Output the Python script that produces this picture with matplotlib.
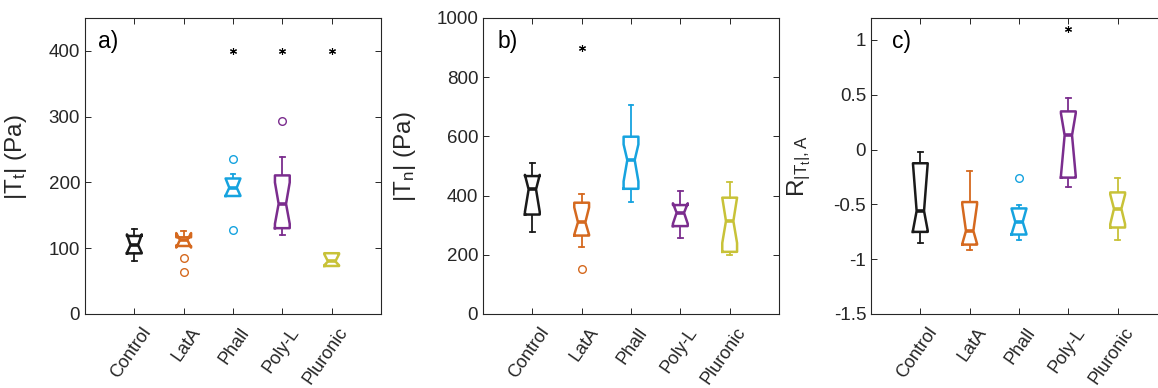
import numpy as np
import matplotlib.pyplot as plt
import matplotlib.transforms as mtrans

plt.rcParams['font.family'] = ['Liberation Sans', 'DejaVu Sans']
plt.rcParams['mathtext.fontset'] = 'custom'
plt.rcParams['mathtext.rm'] = 'Liberation Sans'
plt.rcParams['mathtext.it'] = 'Liberation Sans'
plt.rcParams['axes.unicode_minus'] = False

groups = ['Control', 'LatA', 'Phall', 'Poly-L', 'Pluronic']
colors = ['#1a1a1a', '#D5691F', '#16A3DF', '#7B2D8E', '#C8C238']

# panel a: |Tt| (Pa)
a_whislo = [80.6, 103.4, 179.4, 119.8, 73]
a_q1 = [92.2, 103.4, 179.4, 130.5, 73]
a_med = [104.9, 112.5, 192, 167.5, 80]
a_q3 = [118.6, 116.6, 206, 210.7, 92.4]
a_whishi = [129.7, 126, 212.8, 238, 92.4]
a_cilo = [93, 101, 180, 137, 74]
a_cihi = [121, 123, 206, 200, 91]
a_fliers = [[], [85, 64.3], [236, 127], [293], []]
a_star_x = [3, 4, 5]
a_star_y = [400, 400, 400]

# panel b: |Tn| (Pa)
b_whislo = [276.5, 227, 378, 256, 201]
b_q1 = [336, 265, 423, 297, 210]
b_med = [421, 310, 520, 342, 314]
b_q3 = [466, 376, 599, 368, 393]
b_whishi = [509, 404, 705, 415, 447]
b_cilo = [345, 268, 448, 305, 240]
b_cihi = [470, 360, 573, 374, 393]
b_fliers = [[], [152], [], [], []]
b_star_x = [2]
b_star_y = [900]

# panel c: R_|Tt|,A
c_whislo = [-0.852, -0.919, -0.821, -0.339, -0.821]
c_q1 = [-0.751, -0.867, -0.775, -0.256, -0.711]
c_med = [-0.56, -0.742, -0.66, 0.13, -0.54]
c_q3 = [-0.125, -0.479, -0.537, 0.348, -0.391]
c_whishi = [-0.018, -0.195, -0.504, 0.473, -0.263]
c_cilo = [-0.74, -0.86, -0.77, -0.24, -0.68]
c_cihi = [-0.125, -0.50, -0.54, 0.33, -0.41]
c_fliers = [[], [], [-0.263], [], []]
c_star_x = [4]
c_star_y = [1.10]

panels = [
    dict(whislo=a_whislo, q1=a_q1, med=a_med, q3=a_q3, whishi=a_whishi,
         cilo=a_cilo, cihi=a_cihi, fliers=a_fliers, sx=a_star_x, sy=a_star_y,
         ylim=(0, 450), yticks=[0, 100, 200, 300, 400],
         ylabel=r'|T$_\mathrm{t}$| (Pa)', tag='a)', left=85, tagx=0.045,
         labx=-0.19, laby=0.53),
    dict(whislo=b_whislo, q1=b_q1, med=b_med, q3=b_q3, whishi=b_whishi,
         cilo=b_cilo, cihi=b_cihi, fliers=b_fliers, sx=b_star_x, sy=b_star_y,
         ylim=(0, 1000), yticks=[0, 200, 400, 600, 800, 1000],
         ylabel=r'|T$_\mathrm{n}$| (Pa)', tag='b)', left=483, tagx=0.05,
         labx=-0.22, laby=0.53),
    dict(whislo=c_whislo, q1=c_q1, med=c_med, q3=c_q3, whishi=c_whishi,
         cilo=c_cilo, cihi=c_cihi, fliers=c_fliers, sx=c_star_x, sy=c_star_y,
         ylim=(-1.5, 1.2), yticks=[-1.5, -1, -0.5, 0, 0.5, 1],
         ylabel=r'R$_{|\mathrm{T}_\mathrm{t}|,\mathrm{A}}$', tag='c)', left=871,
         tagx=0.072, labx=-0.195, laby=0.5),
]

W, H = 1158, 388
fig = plt.figure(figsize=(W / 100, H / 100), dpi=100)
axcol = '#262626'
shift = mtrans.ScaledTranslation(13 / 100, 0, fig.dpi_scale_trans)

for p in panels:
    ax = fig.add_axes([p['left'] / W, 74 / H, 296 / W, 296 / H])
    for i in range(len(groups)):
        st = dict(med=p['med'][i], q1=p['q1'][i], q3=p['q3'][i],
                  whislo=p['whislo'][i], whishi=p['whishi'][i],
                  cilo=p['cilo'][i], cihi=p['cihi'][i], fliers=p['fliers'][i])
        c = colors[i]
        ax.bxp([st], positions=[i + 1], widths=0.3, capwidths=0.1,
               shownotches=True, showfliers=True,
               boxprops=dict(color=c, lw=1.8),
               whiskerprops=dict(color=c, lw=1.3),
               capprops=dict(color=c, lw=1.3),
               medianprops=dict(color=c, lw=2.6),
               flierprops=dict(marker='o', mfc='none', mec=c, ms=5.5, mew=1.0),
               manage_ticks=False)
    ax.plot(p['sx'], p['sy'], marker=(6, 2, 0), ls='none', color='k',
            ms=5, mew=0.8)
    ax.set_xlim(0, 6)
    ax.set_ylim(*p['ylim'])
    ax.set_yticks(p['yticks'])
    ax.set_yticklabels(['%g' % v for v in p['yticks']])
    ax.set_xticks(range(1, 6))
    ax.set_xticklabels(groups, rotation=55, ha='right', va='center',
                       rotation_mode='anchor', fontsize=13)
    ax.tick_params(direction='in', top=True, right=True, length=4,
                   width=0.7, color=axcol, labelcolor=axcol)
    ax.tick_params(axis='y', labelsize=13.5)
    ax.tick_params(axis='x', pad=11)
    for lab in ax.get_xticklabels():
        lab.set_transform(lab.get_transform() + shift)
    for s in ax.spines.values():
        s.set_color(axcol)
        s.set_linewidth(0.8)
    ax.set_ylabel(p['ylabel'], fontsize=17.5, color=axcol)
    ax.yaxis.set_label_coords(p['labx'], p['laby'])
    ax.text(p['tagx'], 0.92, p['tag'], transform=ax.transAxes, fontsize=16.5,
            color='k', va='center', ha='left')

fig.savefig('out.png', dpi=100)
